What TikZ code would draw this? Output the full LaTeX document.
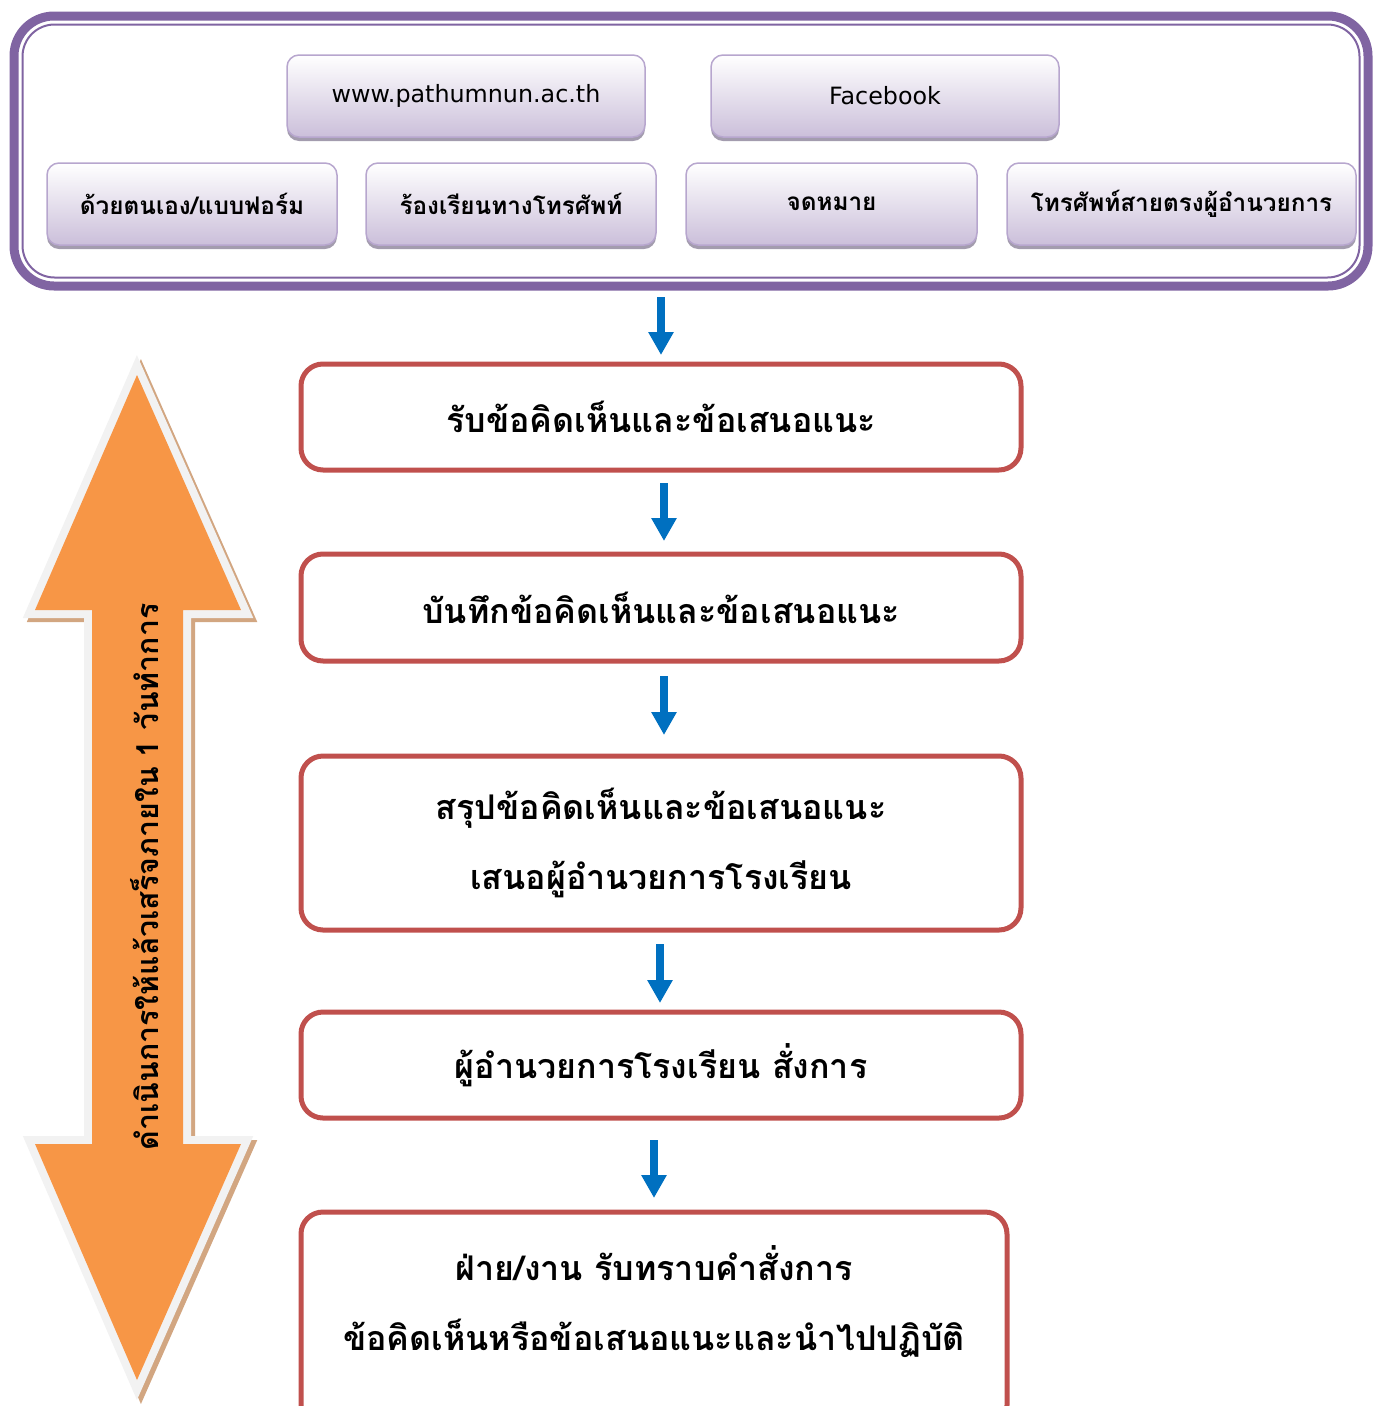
\documentclass[tikz,border=0pt]{standalone}
\usepackage{fontspec}
\newfontfamily\thaifont[Script=Thai]{Loma}
\newfontfamily\webfont{DejaVu Sans}
\usetikzlibrary{arrows.meta,shadows}

\definecolor{framepurple}{HTML}{8064A2}
\definecolor{chanedge}{HTML}{B7A6CE}
\definecolor{chanfill}{HTML}{CBBFDA}
\definecolor{chanshadow}{HTML}{A39CAE}
\definecolor{stepred}{HTML}{C0504D}
\definecolor{flowblue}{HTML}{0070C0}
\definecolor{timeorange}{HTML}{F79646}
\definecolor{timeedge}{HTML}{F2F2F2}
\definecolor{timeshadow}{HTML}{D2A681}

\tikzset{
  frame/.style={draw=framepurple, line width=9pt, rounded corners=40pt,
                inner sep=0pt, outer sep=0pt},
  channel/.style={draw=chanedge, line width=1.5pt, rounded corners=12pt,
                  top color=white, bottom color=chanfill, inner sep=0pt, outer sep=0pt,
                  minimum height=82pt,
                  drop shadow={shadow xshift=0pt, shadow yshift=-4pt, fill=chanshadow, opacity=1},
                  font=\thaifont\bfseries\fontsize{24.3}{26}\selectfont},
  webchannel/.style={channel, font=\webfont\fontsize{23.8}{28}\selectfont},
  stepbox/.style={draw=stepred, line width=5pt, rounded corners=22pt, fill=white,
                  minimum width=720pt, inner sep=0pt, outer sep=0pt, align=center,
                  font=\thaifont\bfseries\fontsize{34}{70}\selectfont},
  flow/.style={flowblue, line width=8pt, -{Triangle[width=24pt,length=23pt]}},
  timeshape/.style={insert path={(137,375) -- (241,610) -- (183,610) -- (183,1144)
                    -- (241,1144) -- (137,1380) -- (35,1144) -- (92,1144) -- (92,610)
                    -- (35,610) -- cycle}},
  timetext/.style={rotate=90, font=\thaifont\bfseries\fontsize{30.3}{32}\selectfont}
}

\begin{document}
\begin{tikzpicture}[x=1pt,y=-1pt]
  \useasboundingbox (0,0) rectangle (1373,1406);
  \clip (0,0) rectangle (1373,1406);

  % channels
  \node[frame, minimum width=1354pt, minimum height=270pt] (channels) at (691,151) {};
  \draw[framepurple, line width=2pt, rounded corners=32pt]
    ([xshift=8.5pt,yshift=-8.5pt]channels.north west) rectangle ([xshift=-8.5pt,yshift=8.5pt]channels.south east);

  \node[webchannel, minimum width=358pt] (web) at (466,96) {www.pathumnun.ac.th};
  \node[webchannel, minimum width=348pt] (fb) at (885,96) {Facebook};
  \node[channel, minimum width=290pt] (self) at (192,204) {ด้วยตนเอง/แบบฟอร์ม};
  \node[channel, minimum width=290pt] (phone) at (511,204) {ร้องเรียนทางโทรศัพท์};
  \node[channel, minimum width=291pt] (letter) at (831.5,204) {จดหมาย};
  \node[channel, minimum width=349pt] (direct) at (1181.5,204) {โทรศัพท์สายตรงผู้อำนวยการ};

  % steps
  \node[stepbox, minimum height=106pt] (receive) at (661,417) {รับข้อคิดเห็นและข้อเสนอแนะ};
  \node[stepbox, minimum height=107pt] (record) at (661,607.5) {บันทึกข้อคิดเห็นและข้อเสนอแนะ};
  \node[stepbox, minimum height=174pt] (summary) at (661,843) {สรุปข้อคิดเห็นและข้อเสนอแนะ\\เสนอผู้อำนวยการโรงเรียน};
  \node[stepbox, minimum height=106pt] (order) at (661,1065) {ผู้อำนวยการโรงเรียน สั่งการ};
  \node[stepbox, minimum width=706pt, anchor=north] (act) at (654,1212)
    {\rule{0pt}{68pt}ฝ่าย/งาน รับทราบคำสั่งการ\\ข้อคิดเห็นหรือข้อเสนอแนะและนำไปปฏิบัติ\rule[-77pt]{0pt}{77pt}};

  \draw[flow, shorten <=11pt, shorten >=9pt] (receive.north |- channels.south) -- (receive.north);
  \draw[flow, shorten <=13pt, shorten >=13pt] ([xshift=3pt]receive.south) -- ([xshift=3pt]record.north);
  \draw[flow, shorten <=15pt, shorten >=21pt] ([xshift=3pt]record.south) -- ([xshift=3pt]summary.north);
  \draw[flow, shorten <=14pt, shorten >=9pt] ([xshift=-1pt]summary.south) -- ([xshift=-1pt]order.north);
  \draw[flow, shorten <=22pt, shorten >=14pt] (order.south -| act.north) -- (act.north);

  % time frame
  \path[fill=timeshadow, draw=timeshadow, line width=16pt, line join=miter, shift={(4,4)}, timeshape];
  \path[draw=timeedge, line width=16pt, line join=miter, timeshape];
  \path[fill=timeorange, timeshape];
  \node[timetext] (duration) at (145,877) {ดำเนินการให้แล้วเสร็จภายใน 1 วันทำการ};
\end{tikzpicture}
\end{document}
